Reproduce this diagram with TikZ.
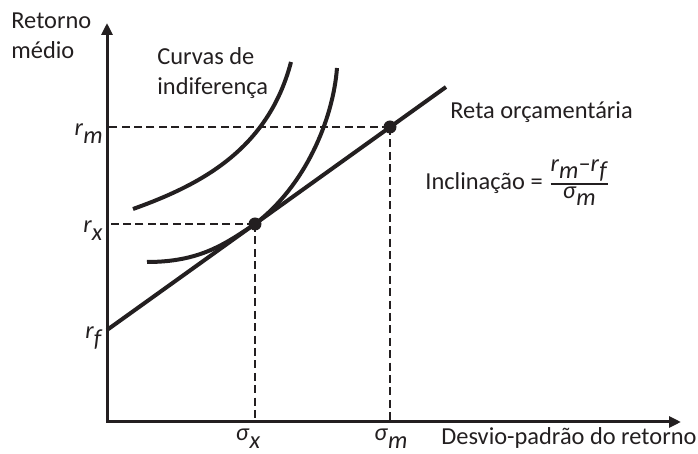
\documentclass[tikz,border=0pt]{standalone}
\usepackage{fontspec}
\setmainfont{Carlito}
\usetikzlibrary{arrows.meta,calc}
\definecolor{ink}{HTML}{231F20}
\newcommand\sbx[1]{\raisebox{-0.65ex}{#1}}
\newcommand\rlab[1]{\textit{r}\sbx{\textit{#1}}}
\newcommand\slab[1]{\textit{σ}\sbx{\textit{#1}}}
\begin{document}
\begin{tikzpicture}[x=0.5pt,y=-0.5pt,
  font=\fontsize{12.2}{15}\selectfont,
  every node/.style={inner sep=0pt, text=ink},
  axis/.style={line width=1.5pt, draw=ink, {Triangle[length=6pt,width=5.5pt]}-{Triangle[length=6pt,width=5.5pt]}},
  curve/.style={line width=2pt, draw=ink},
  guide/.style={line width=1.1pt, draw=ink, dash pattern=on 4pt off 2.2pt},
  dot/.style={circle, fill=ink, minimum size=6.5pt}]
\useasboundingbox (0,0) rectangle (698,454);
\coordinate (O) at (107,422);
\coordinate (ytop) at (107,23);
\coordinate (xend) at (681,422);
\coordinate (rf) at (107,330);
\coordinate (E) at (446,87);
\coordinate (X) at (255,224);
\coordinate (M) at (390,127);
% guides
\draw[guide] (X) -- (X -| O);
\draw[guide] (X) -- (X |- O);
\draw[guide] (M) -- (M -| O);
\draw[guide] (M) -- (M |- O);
% axes
\draw[axis] (ytop) -- (O) -- (xend);
% indifference curves
\draw[curve] (133,209) .. controls (200,185) and (268,150) .. (291,62);
\draw[curve] (147,262) .. controls (200,262) and (225,244) .. (X) .. controls (305,186) and (333,120) .. (337,68);
% budget line
\draw[curve] (rf) -- (E);
\node[dot] (Xd) at (X) {};
\node[dot] (Md) at (M) {};
% labels
\node[anchor=base east] (lrm) at ($(M -| O)+(-4,8.5)$) {\rlab{m}};
\node[anchor=base east] (lrx) at ($(X -| O)+(-4,8.5)$) {\rlab{x}};
\node[anchor=base east] (lrf) at ($(rf)+(-4,8.5)$) {\rlab{f}};
\node[anchor=base] (lsx) at ($(X |- O)+(-7,19)$) {\slab{x}};
\node[anchor=base] (lsm) at ($(M |- O)+(1,19)$) {\slab{m}};
\node[anchor=base west, align=left] (ylab) at (11,59) {Retorno\\médio};
\node[anchor=base west, align=left] (clab) at (157,95) {Curvas de\\indiferença};
\node[anchor=base west] (budgetlab) at (450,119) {Reta orçamentária};
\node[anchor=base west] (slope) at (425,190) {Inclinação = ${\hbox{\rlab{m}–\rlab{f}}\above 0.8pt \hbox{\slab{m}}}$};
\node[anchor=base west] (xlab) at (441,445) {Desvio-padrão do retorno};
\end{tikzpicture}
\end{document}
